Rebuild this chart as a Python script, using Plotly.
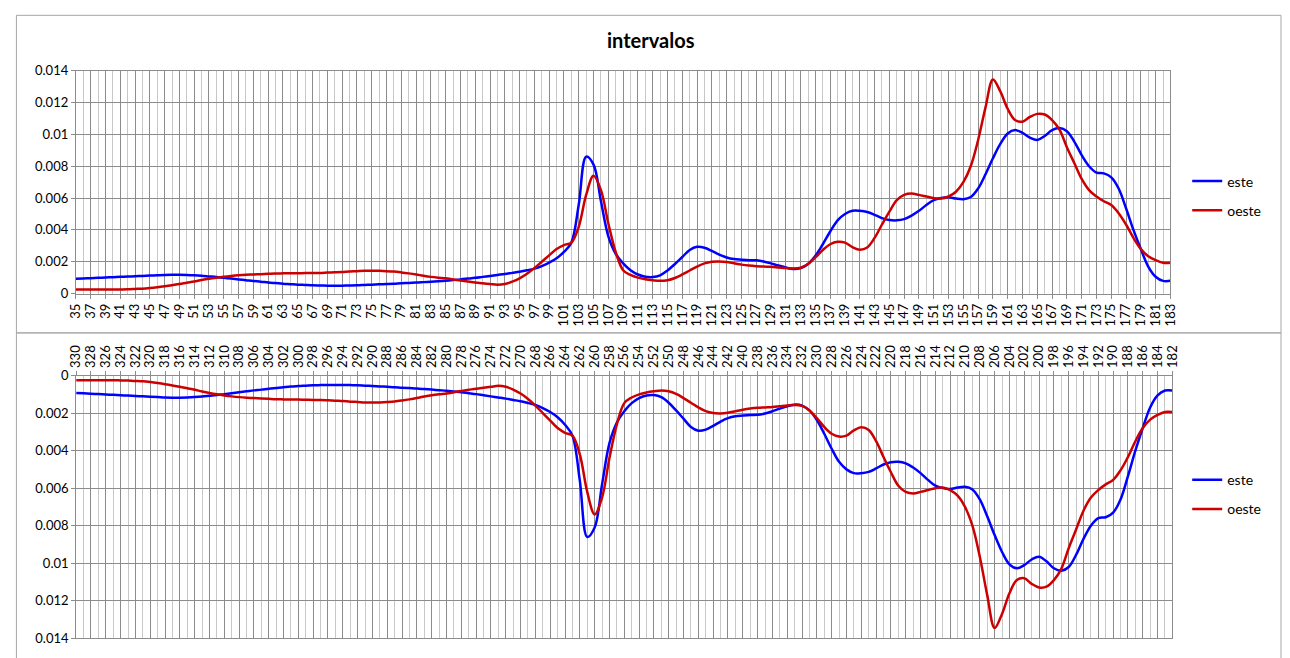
import plotly.graph_objects as go

# categories (days) of the upper chart; lower chart shows 365 - day
days = list(range(35, 184))
days_bottom = [365 - d for d in days]

este = [
    0.00093, 0.00095, 0.00097, 0.00099, 0.00101, 0.00103, 0.00105, 0.00107, 0.00109, 0.00111,  # 35-44
    0.00113, 0.00115, 0.00117, 0.00118, 0.00118, 0.00117, 0.00115, 0.00112, 0.00108, 0.00104,  # 45-54
    0.00099, 0.00094, 0.00089, 0.00084, 0.00079, 0.00075, 0.00070, 0.00066, 0.00062, 0.00059,  # 55-64
    0.00056, 0.00054, 0.00052, 0.00051, 0.00050, 0.00050, 0.00050, 0.00051, 0.00052, 0.00054,  # 65-74
    0.00056, 0.00058, 0.00060, 0.00062, 0.00065, 0.00067, 0.00069, 0.00072, 0.00075, 0.00078,  # 75-84
    0.00081, 0.00085, 0.00089, 0.00094, 0.00099, 0.00105, 0.00111, 0.00117, 0.00123, 0.00130,  # 85-94
    0.00137, 0.00146, 0.00157, 0.00173, 0.00194, 0.00222, 0.00262, 0.00320, 0.00560, 0.00860,  # 95-104
    0.00810, 0.00580, 0.00360, 0.00250, 0.00190, 0.00147, 0.00120, 0.00106, 0.00104, 0.00115,  # 105-114
    0.00145, 0.00186, 0.00230, 0.00274, 0.00294, 0.00288, 0.00268, 0.00245, 0.00227, 0.00217,  # 115-124
    0.00213, 0.00210, 0.00209, 0.00202, 0.00190, 0.00176, 0.00164, 0.00155, 0.00160, 0.00186,  # 125-134
    0.00237, 0.00310, 0.00390, 0.00460, 0.00500, 0.00520, 0.00520, 0.00513, 0.00495, 0.00474,  # 135-144
    0.00462, 0.00460, 0.00468, 0.00490, 0.00520, 0.00556, 0.00587, 0.00600, 0.00605, 0.00597,  # 145-154
    0.00593, 0.00607, 0.00660, 0.00750, 0.00850, 0.00940, 0.01006, 0.01027, 0.01010, 0.00980,  # 155-164
    0.00965, 0.00990, 0.01027, 0.01040, 0.01020, 0.00955, 0.00870, 0.00800, 0.00760, 0.00755,  # 165-174
    0.00730, 0.00660, 0.00536, 0.00400, 0.00280, 0.00170, 0.00106, 0.00080, 0.00080,           # 175-183
]

oeste = [
    0.00025, 0.00025, 0.00025, 0.00025, 0.00025, 0.00025, 0.00026, 0.00027, 0.00029, 0.00031,  # 35-44
    0.00035, 0.00040, 0.00046, 0.00053, 0.00060, 0.00068, 0.00076, 0.00085, 0.00093, 0.00100,  # 45-54
    0.00106, 0.00111, 0.00115, 0.00118, 0.00120, 0.00122, 0.00124, 0.00126, 0.00127, 0.00128,  # 55-64
    0.00128, 0.00129, 0.00130, 0.00130, 0.00132, 0.00134, 0.00136, 0.00139, 0.00141, 0.00143,  # 65-74
    0.00144, 0.00143, 0.00141, 0.00138, 0.00133, 0.00127, 0.00120, 0.00112, 0.00105, 0.00100,  # 75-84
    0.00096, 0.00089, 0.00082, 0.00076, 0.00070, 0.00065, 0.00060, 0.00055, 0.00060, 0.00075,  # 85-94
    0.00096, 0.00125, 0.00160, 0.00200, 0.00240, 0.00280, 0.00305, 0.00320, 0.00420, 0.00620,  # 95-104
    0.00740, 0.00650, 0.00440, 0.00260, 0.00147, 0.00117, 0.00100, 0.00090, 0.00084, 0.00080,  # 105-114
    0.00084, 0.00098, 0.00120, 0.00145, 0.00170, 0.00190, 0.00200, 0.00202, 0.00198, 0.00190,  # 115-124
    0.00182, 0.00176, 0.00172, 0.00170, 0.00168, 0.00164, 0.00160, 0.00157, 0.00162, 0.00186,  # 125-134
    0.00227, 0.00274, 0.00310, 0.00325, 0.00320, 0.00292, 0.00276, 0.00290, 0.00350, 0.00434,  # 135-144
    0.00515, 0.00587, 0.00620, 0.00628, 0.00620, 0.00610, 0.00600, 0.00597, 0.00610, 0.00640,  # 145-154
    0.00700, 0.00800, 0.00965, 0.01170, 0.01345, 0.01270, 0.01160, 0.01090, 0.01080, 0.01110,  # 155-164
    0.01129, 0.01125, 0.01090, 0.01030, 0.00920, 0.00820, 0.00720, 0.00650, 0.00610, 0.00580,  # 165-174
    0.00556, 0.00505, 0.00434, 0.00350, 0.00280, 0.00235, 0.00210, 0.00194, 0.00194,           # 175-183
]

y_ticks = [0, 0.002, 0.004, 0.006, 0.008, 0.01, 0.012, 0.014]
y_ticktext = ["0", "0.002", "0.004", "0.006", "0.008", "0.01", "0.012", "0.014"]

W, H = 1290, 658
BLUE = "#0000FF"
RED = "#CC0000"
DARK = "#8C8C8C"
LIGHT = "#C8C8C8"
FONT = "Lato, 'Open Sans', sans-serif"


def px_x(p):
    return p / W


def px_y(p):
    return 1 - p / H


fig = go.Figure()

line_kw = dict(width=2.5, shape="spline", smoothing=1.0)
fig.add_trace(go.Scatter(x=days, y=este, name="este", mode="lines",
                         line=dict(color=BLUE, **line_kw),
                         xaxis="x", yaxis="y", legend="legend", legendgroup="a"))
fig.add_trace(go.Scatter(x=days, y=oeste, name="oeste", mode="lines",
                         line=dict(color=RED, **line_kw),
                         xaxis="x", yaxis="y", legend="legend", legendgroup="b"))
fig.add_trace(go.Scatter(x=days_bottom, y=este, name="este", mode="lines",
                         line=dict(color=BLUE, **line_kw),
                         xaxis="x2", yaxis="y2", legend="legend2", legendgroup="c"))
fig.add_trace(go.Scatter(x=days_bottom, y=oeste, name="oeste", mode="lines",
                         line=dict(color=RED, **line_kw),
                         xaxis="x2", yaxis="y2", legend="legend2", legendgroup="d"))

tickfont = dict(family=FONT, size=13, color="#000000")

xcommon = dict(
    showgrid=True, gridcolor=DARK, gridwidth=1,
    minor=dict(dtick=1, showgrid=True, gridcolor=LIGHT, gridwidth=1, ticks=""),
    dtick=2, tickangle=-90, tickfont=tickfont,
    ticks="outside", ticklen=4, tickcolor=DARK,
    showline=True, linecolor=DARK, linewidth=1, mirror=True,
    zeroline=False, fixedrange=True,
)
ycommon = dict(
    showgrid=True, gridcolor=DARK, gridwidth=1,
    tickvals=y_ticks, ticktext=y_ticktext, tickfont=tickfont,
    ticks="outside", ticklen=4, tickcolor=DARK,
    showline=True, linecolor=DARK, linewidth=1, mirror=True,
    zeroline=False, fixedrange=True,
)

fig.update_layout(
    width=W, height=H,
    margin=dict(l=0, r=0, t=0, b=0),
    paper_bgcolor="white", plot_bgcolor="white",
    font=dict(family=FONT, color="#000000"),
    xaxis=dict(domain=[px_x(67.7), px_x(1176)], range=[35, 183], tick0=35,
               anchor="y", **xcommon),
    yaxis=dict(domain=[px_y(292.7), px_y(64.3)], range=[0, 0.014], anchor="x", **ycommon),
    xaxis2=dict(domain=[px_x(68), px_x(1178)], range=[330, 182], tick0=330,
                side="top", anchor="y2", **xcommon),
    yaxis2=dict(domain=[px_y(646), px_y(376.7)], range=[0.014, 0], anchor="x2", **ycommon),
    legend=dict(x=px_x(1193), y=px_y(192.7), xanchor="left", yanchor="middle",
                font=dict(family=FONT, size=14, color="#000000"),
                tracegroupgap=8, bgcolor="rgba(0,0,0,0)"),
    legend2=dict(x=px_x(1193), y=px_y(498.8), xanchor="left", yanchor="middle",
                 font=dict(family=FONT, size=14, color="#000000"),
                 tracegroupgap=8, bgcolor="rgba(0,0,0,0)"),
    annotations=[dict(text="<b>intervalos</b>", x=px_x(650), y=px_y(33),
                      xref="paper", yref="paper", xanchor="center", yanchor="middle",
                      showarrow=False, font=dict(family=FONT, size=20, color="#000000"))],
    shapes=[
        dict(type="rect", xref="paper", yref="paper",
             x0=px_x(7.5), x1=px_x(1288), y0=px_y(333), y1=px_y(7.5),
             line=dict(color="#A6A6A6", width=1)),
        dict(type="rect", xref="paper", yref="paper",
             x0=px_x(7.5), x1=px_x(1288), y0=px_y(680), y1=px_y(333),
             line=dict(color="#A6A6A6", width=1)),
    ],
)

# remove the page's default body margin so the 1290x658 figure fills the window exactly
fig.write_html(
    "out.html",
    config={"displayModeBar": False},
    post_script="document.documentElement.style.margin='0';document.body.style.margin='0';"
                "document.documentElement.style.overflow='hidden';document.body.style.overflow='hidden';",
)
